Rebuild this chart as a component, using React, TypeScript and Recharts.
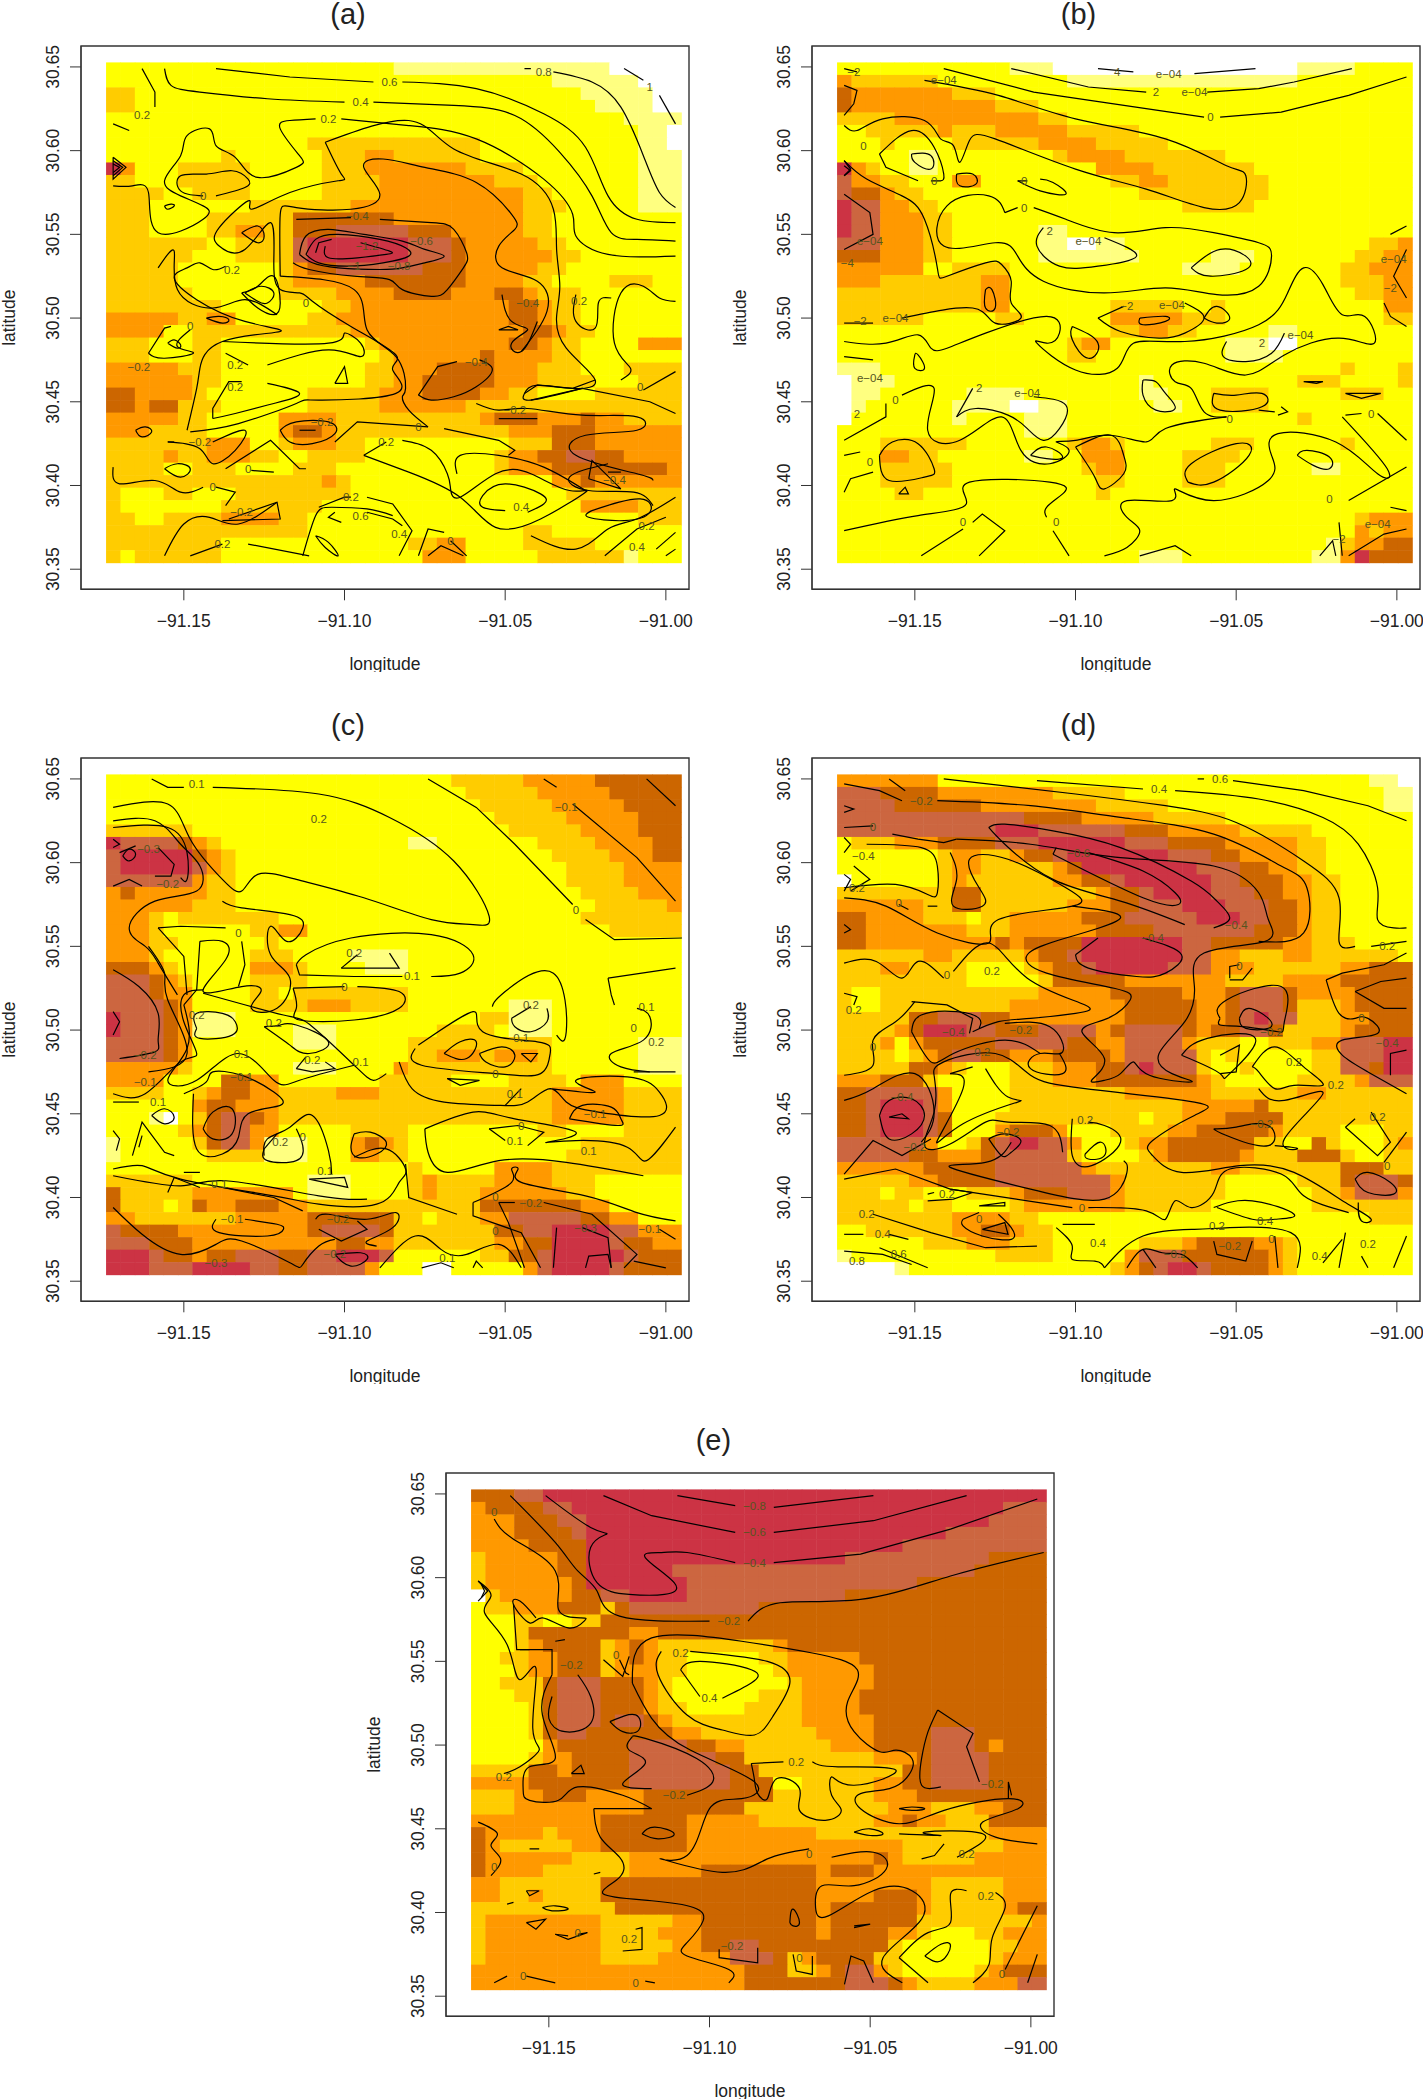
import React from 'react';
import { ScatterChart, Scatter, XAxis, YAxis, ReferenceArea } from 'recharts';

// Heat-map classes, read row by row from the top, run-length coded: y20 = 20 yellow cells
const gridA = ["y20l15w5","y31l6w3","a2y31l5w2","a2y32l4w2","y36l4","y37l2w1","y14a12y11l2w1","y8a1y6a3o2a6y11l3","r1o1y3a5y5a3o7a4y8l3","a2y3a5y5a4o8a3y7l3","a4y2a4y5a4o10a2y6l3","a3y7a7o12a3y5l3","a3y4a6d7o9a2y9","a3y4a2o2a2d3b5d3o5a2y9","a7y2a4b1r7b3d1o5a2y8","a6y3a4b1r7b3d1o6a2y7","a5y7a1o1d2b6d3o5a2y8","a5y7a1o5d7o4a2y4a3y2","a6y6a4o4d4o3d2o1a3y7","a8y7a2o11d2o1a2y7","o5a2o2y5a2o12d2o1a2y7","o4y2a11o12d2o1a2y6","a3y3a2y10a1o9d2o1a2y4o3","a3y3a2y11a1o6d1o4a2y7","o5a3y10a2o3d4o3a3y3a4","o6a2y10a2o2d5o3a4y3a3","d2o4a1y7a5o3d4o2a2y4a6","d2o1d2a3y6a5o6a15","o5a2y5o4a10o1d3o3d1o2a4","o3a4y5o1d2o1a12o3d3o6","a7o3y2a1o3a2y10a3d3o6","a4o1a2o3a2y2a4y9a1o2d2b2d2o4","a4y2a3y4a3y11a1o3d8o1","a15o1a1y14o2d1o6","a1y3a2y3a8y15a8","a1y7a7y18o4a3","a2y2a4o4a2y23a3","a14y15a2y9","a8y13a2o2y4a5y6","a1y1a6y14o3y5a6l1y3"];
const gridB = ["y12l3w17l4y4","o1a6y9l16y8","d1o7a3y29","d1o10a3y26","a4o10a2y24","y2a5o1a3o5a5y19","y3a1y4a6o4a5y17","y5l2y8a1o4a7y13","r1o1a1y2l2y11o4a7y11","b1o2a2y3o2y9a2o2a7y10","b1d2o1a2y15a9y10","r1b2o2a2y17a5y11","r1b2o3a2y31","r1b2o3a2y6l2y24","b3o3a2y6l2w2l2y17a2o1","d3o3a2y6l7y5l3y7a2o2","o6y2a4y12l4y7a2o3","o3a7o2y23a3o2","a10o2y24a2o2","a10o2y7a5y2a1y11o2","a6y5a2y6o5a3y11a2","y19a2o2a2y5l2y8","y16a1o2y8l3w2y8","y16a2y9l4y9","l3y32a1y3a1","w1l3y17l1y10a3y4a1","w1l2y6l4y8l2y3a4y5a3y2","w1l1y6l4w2l2y6l2y2a4y10","w1y7l1y4l3y16a1y7","y13l3y24","y3a6y7a1o2a1y6a3y6a1y4","y3o2a2y6l2y2o3y4a4y12","y3a5y9a1o2y4a3y6l2y5","y3a5y10a2y4a3y13","y4a2y12a1y21","y40","y36a1o3","y36o1a1o2","y34l1a1o2d2","y21l3y9l2o1r1d3"];
const gridC = ["y24a5o5d6","y25a5o5d5","y26a5o5d4","y27a5o5d3","a6y22a5o4d3","r1b4d1o1a1y13l2y7a4o4d2","b1r5d1o1a1y22a4o3d2","b1r5b1o1a1y23a4o4","b6o1a2y23a4o4","o1d1o5a2y24a4o3","o6a3y25a5o1","o3a1y1a7y21a7","o3a1y6a2o2y21a5","o3a2y6a1y28","o3a1y6a3y4l4y19","d3o1a1y5o3a1y4l3y19","b3d1o1a1y4a4y26","b3d1o2y4a2y1a8y19","b4d1o1y4a3a1o3a4y7l3y9","r1b3d1o1l3y17a2l3y9","r1b3d1o1l3y4l3y7a4y1l3y9","b4d1o1y7l3y5a10y6l3","b4d1o1y15a2o3a1o3a1y6l3","o5a1y7l3y4o1a10y6l3","o4y4d2o2y7a5y4a4y1o3y4","a4y2a1o1d2o2a4o3a12o5a4","y6o1d2o3a19o5a4","y3l1w1y1a1d1b2d1o1a19o5a4","y5a1o1d1b2o2y5a4y9a2y4a4","l1y5a1d1b2o1l3y3o1d1o1a1y12a7","l1y6a4l3y3o2a2y11a8","y21a1y5o4a9","a6y8l3y4a1o1a4o4a3y6","d1a5o7y1l3y4a1o1a3o6a2y6","d1a3y1a1d1o2d3o2a12d7o2y5","o2a7o5d6a2y1a3o2b5d2o2y3","b1d4o9d1b4d1a7d2b2r4b2o3","b3d3o10d2o2a7o2d2r4b1d2o2","r3b1d2o1d2b3d2b2r3b1y6a2d2b1r5b1d3","r3b3r4b2d2b4o1y3w2y5o1b1r4b1d4"];
const gridD = ["o7y30l2w1","b3d4o8a5y18l2","b4d6o8a5y15l2","b13d4o5a5y13","b11r3b6d3o5a5y7","y1a3o3d4b3r6b3d4o5a2y6","y7a1o2a2o1d2b1r7b3d2o4a2y6","y7a1o1o1a5o1d1r8b3d2o2a2y6","w1y6a1o1a6o2d2b1r6b2d3o2a2y5","a8d2a8o1d2b1r4b3d2o2a2y5","o6a2d2a6o3d2b3r3b3d2o1a2y5","d2o4a3y1a2o5d3b5r3b2d2o1a2y5","d2o7a3o6d4b7d3o1a2y5","d2o9d1o1d2d2r7b2d2d3o2a3y4","a6o2a2a3o1d2b1r7b2o2a3o2a6y1","a3o2a4y4a1o1d2b1r5b3o3a2a4o2d3","a9y5a1d5o4o3a4o3o1d5","a1y2a11o5d5o3d1b3d1o4d4","a1y2a9o8d3d2o2d1b3d1a3o1d4","a5d2b3d2o4o4d5o2d1b1r1b2a3o2d3","a4o1d1r3b2d3b4o1d1b4d1o1d2b2d1a4o1d4","a3o1y1o1d1d4b5d2o1o1b4o1a3y2a3o2b3r2","a4y1a1o1d1b2d2o3d4o1b5a1y1a1y5a2b3r2","a5d2o1a1y3a3o3d2b1r1b3a1y2a1y4a2b2d1r2","o3d3a1y5a3o3d7o1a1y5a4o1b3","d2b5o1y4a8o6a6o2a6","d2b1r3b1o1y4a12o5d1a4a6","d2b1r3b1d1y3a1a9y1a2o3d3d1a9","d2b1r3b1d1y3o1d3o1y3a4o2d5o1a4y3a2","b6o1y2a1d1b1r2b2o1y3a1o2d6a2y2d1a1y3a1o1","b5d2o1o2d1b5a1y4a1o1d5o1a2a1d3a1y2a2","o6d5b6o1a8o2a7d3a2","a5o2d2d2b8o1a7y5a3d1b3d1","a3y1a2y3a3o1d3b3o1a7y6a2o1b3o1","a5y1a2y4a1o7a6y7a3a4","a8o4a2y23a3","y2a6o2d2o1a2y25","y6a3o3a3y6a3o1d4o2a1y8","l1y10a4y5o1b3d6o1a1y8","w4l1y14a1o1d1b1r2b1d4o1a1y8"];
const gridE = ["d3b2r35","o1d4b2r30b3","o3d3b2r28b4","o3d4b1r25b7","o4d4r22b10","a1o5d2r6r12b10d4","a1o5d2r6b21d5","a1o6d1r7b16d9","w1a1o5d2b2r4b11d14","y1a2o3d3a1d1b9d20","y3a2y2a2d31","y3a1d7o2d27","y3a1o1d4a1o1d1o1a8o1d18","y2a2o2d3a1o1d1o1a2y5a2o5d13","y3a1o2d3a1o2o1a2y6a1o6d12","y2a3d1b3d3o1a1y8a1o5d12","y3a2d1b3d3o1a1y6a3o4d13","y4a1d1b3d3o1a1a1y4a4o4d13","y4a1d1b3d1b2d1o1a2a7o5d12","y4a1d1b2d4d2o2a8o4d4b3d5","y5o1d5b4d2o2a6o3d4b3d1o1d3","y4a1o2d1d3b6d2a9o3d1b4d4","a4d2o1d3d1b7d2a10d2b4d4","o4d7b7d3y2a3a2o2d2b4d4","a3o2d3o4d6d3a7o3d9","a3o9d7a10o3a3o2d3","o9d6o5a8o2d1o2a3d4","d1o4a1o3d6o9a12o4","d1o1a5o2d6o9o6a7o3","d1o6a4o1o12o4d1o1a5o5","d1o4a6o1o4d8o1d3o12","o2a7d15o8a5o3","o2a2o1a4d15o4d3o1a5o3","a10d14o1d6o1a5o1d2","a1o8a5o2d8o1d6a2a6o1","a1o8a4o3d8o1d4o2a1y3a2o3","a1o8a5o2d2b2d5d4a1y6a2o2","a1o8a4o5b3d1a1o1d4a2y6a1o3","o19d3a2o1d1b2o1a1y5a1o1d3","o19d7b3d1o1a4o3b2"];

// Contours: lon and lat written as thousandths of a degree above -91.200 and 30.300
const contoursA = ["60,349 83,344 109,341","118,341 141,337 162,322 175,302 182,273 191,259 203,257","156,349 158,349","165,347 177,341 186,326 193,297 198,275 203,266","187,349 193,342","198,333 203,316","44,349 46,339 55,335 76,331 100,329","109,329 134,327 153,321 167,299 177,273 183,251 191,247 203,246","37,349 41,335 41,326","28,316 33,312","91,319 83,318 80,313 86,297 85,290 73,284 66,296 60,303 58,313 51,309 49,297 44,282 49,273 56,267 56,259 42,251 39,275 34,279 28,279","99,319 120,315 141,307 162,283 171,262 172,249 182,238 203,237","28,296 32,290 28,283 28,296","28,294 31,290 28,285","28,292 30,290 28,287","56,273 49,276 49,285 57,286 65,288 70,283 69,278 60,273","44,267 46,268 47,267 45,265 44,267","94,305 120,318 134,301 155,286 165,265 166,241 167,219 166,201 169,182 178,163 171,158 160,160 156,155 158,151 174,158","94,305 99,286 98,282 83,275 71,265 70,270 61,254 61,243 69,241 77,257 78,233 80,217 86,215 90,210 102,195 116,178 115,169 116,155 92,151 85,149 67,137 52,132","80,225 80,262 85,266 102,265 111,274 106,290 112,295 125,290 141,281 152,262 153,253 148,243 149,230 160,222 163,204 155,180","80,225 103,217 107,193 116,177 119,158 118,153 120,145 126,135","131,134 148,127 153,121 151,118","84,233 89,229 103,225 114,223 118,217 127,213 132,217 137,230 138,239 134,253 127,257 111,259","85,259 102,260","86,238 88,249 95,253 106,250 118,246 125,241 131,237 125,233 118,230 111,229 98,230 90,233 86,238","88,238 91,247 98,250 111,247 119,242 120,237 112,233 101,231 92,233 88,238","91,239 92,245 96,247","105,245 114,240 113,238 104,236 95,236 94,243","149,214 152,198 157,193 152,185 155,180 160,198","148,193 151,195 154,193 148,193","123,154 129,171 135,174","142,175 146,169 141,159 134,153 127,151 123,154","51,133 54,158 55,170 62,186 80,192 69,198 54,211 47,224 51,230 55,233 59,229 63,231","62,186 95,185 100,191 105,185 105,177 95,181 76,172","63,179 70,172","59,140 59,146 64,162 68,162","76,161 86,155 78,149 66,143 59,140","97,161 100,171 101,161 97,161","35,133 38,135 40,132 37,129 35,133","45,185 47,187 49,184 48,182 45,185","39,179 44,194 46,195","52,193 48,183 53,179 44,176 39,179","57,200 61,201 64,199 62,197 57,200","68,215 73,219 78,225 80,209 78,202 73,206 68,215","69,215 74,219 78,215 76,209 73,210 69,215","68,251 73,255 75,249 73,245 68,251","42,230 47,240 48,217 59,206 69,211 79,202","80,133 85,138 95,138 97,131 90,125 83,126 80,133","86,133 91,133","45,126 47,126","59,126 69,133 66,121 59,113 55,122 45,126","44,110 48,113 52,110 49,105 44,110","63,110 77,127 86,110 88,110","71,109 78,108","28,111 30,101 41,103 49,96 56,99","60,99 66,96 63,88","44,58 50,77 58,81 67,77 79,90","64,80 79,90 80,80 62,79","92,87 100,93 102,93","107,93 115,89 121,73 117,58","97,126 104,138 126,135","106,118 113,126","118,127 127,121 132,107 133,98 136,93 147,107 158,107 170,97 175,96 161,80 147,75 136,93 120,108 106,118","150,85 143,87 143,94 150,101 161,95 162,89 157,84","135,107 136,118 148,118 162,111 175,97","52,58 62,65","70,65 89,58","123,58 126,74 131,72","126,58 130,64 137,58","133,67 138,58","91,70 95,66 98,58 94,63 91,70","87,58 91,82 96,87 107,86 115,82","99,78 95,81 97,84","107,84 115,80 118,76","141,149 148,145 157,146 174,142 191,141 191,133 175,130 172,118 191,107 196,103","148,140 160,140","156,155 160,160 171,158 178,163","158,151 174,158 195,150 203,143","186,163 189,170 184,185 186,215 193,219 198,212 203,210","172,214 172,198 178,194 179,209 183,212","193,157 203,168","182,113 170,105 176,97 190,96 196,88","158,70 172,62 182,74 191,80 203,93","181,58 191,74 200,81","197,62 203,72","176,104 177,115 186,98 176,104","182,108 186,108","177,85 192,92 195,84 187,79 176,81 177,85","200,58 203,62"];
const contoursB = ["107,349 118,347","137,346 156,349","80,349 104,338 122,335","141,335 157,337 168,341 186,349","59,349 87,335 140,320","145,320 164,323 185,333 203,344","28,349 32,347","53,342 76,333 100,319 128,307 147,291 153,285 151,269 140,266 122,277 100,289 75,307 67,306 64,293 62,303 58,307 53,318 40,319 32,312 28,315","28,339 32,336 31,328 28,321","39,298 49,312 56,302 59,286 58,282 55,282","51,282 41,290 39,298","49,298 55,297 55,289 50,293 49,298","63,286 68,286 69,280 64,279 63,286","82,282 85,282","89,283 93,281 97,274 89,276 82,282","78,263 82,266","87,266 97,259 112,251 128,254 143,251 157,245 161,237 157,219 144,214 128,218 109,215 90,222 82,237 75,245 59,243 60,267 73,273 78,263","90,254 88,243 95,231 107,231 119,237 109,248","136,230 145,241 153,237 153,229 142,225 136,230","28,294 35,283 46,273 53,259 57,230 60,225 72,233 77,232 80,222 80,209 83,200 75,197 68,206 46,200","28,197 37,197","28,274 36,263 37,250 28,241","28,294 30,289 28,285","28,291 30,288 28,285","72,217 74,217 75,206 72,206 72,217","107,200 115,207","134,209 140,200 134,191 126,188 114,192 107,200","120,200 128,201 128,198 121,196 120,200","140,200 144,207 148,200 144,197 140,200","28,186 41,185 51,190 55,182 60,182 72,191 91,201 95,191 91,185 88,185 100,169 113,170 118,185 134,186 157,196 166,215 171,230 177,220 183,202 190,201 193,185 182,188 165,178 153,166 140,173 130,172 131,162 136,158 140,144 147,141","99,195 99,187 104,176 107,185 99,195","147,186 146,177 153,174 161,179 165,191","28,177 37,175","50,178 51,178 53,170 50,170 50,178","121,163 125,162 128,155 131,146 125,145 121,154 121,163","143,155 150,154 158,155 158,147 145,145 143,155","171,162 177,162 175,161 171,162","184,155 195,155 189,152 184,155","63,141 68,158","87,153 97,148 95,134 90,127 85,134 79,142 69,146 63,141","28,127 41,141 41,149","46,154 56,158 54,133 64,127 77,141 83,121 92,113 98,121 94,126 100,127 111,130 122,126 128,134 147,141","86,118 91,123 96,117 91,116 86,118","100,123 111,130 115,118 115,107 109,98 106,105 100,123","39,118 43,126 51,125 56,110 53,105 42,103 39,118","45,95 47,99 48,95 45,95","135,102 136,113 150,125 154,118 143,102 135,102","184,142 189,143","194,143 203,127","183,141 197,110 194,107 181,126 163,131 161,118 160,103 143,91 131,98 130,91 116,91 116,81 120,73 116,63 109,58","28,73 51,82 66,89 67,102 92,102 96,95 91,87 91,81","52,58 65,74","68,78 71,83 78,73 70,58","93,73 98,58","169,118 172,121 179,117 179,110 174,112 169,118","185,91 203,111","182,78 183,58","198,87 203,85","185,58 196,71 203,74","176,58 180,67 181,58","120,58 131,64 136,58","198,250 203,255","196,209 198,201 203,195","203,241 199,225 203,212","28,118 33,120","28,96 30,104 37,108","157,145 162,144","164,147 166,144 163,142"];
const contoursC = ["40,350 45,345 50,345","59,345 92,341 114,327 134,301 145,268 140,263 127,266 106,279 85,290 73,293 68,283 62,290 52,314 45,335 28,333","126,350 141,333 153,311 171,275","175,266 184,254 205,255","162,350 166,345","171,335 191,303 203,277","194,350 203,334","28,325 41,325 49,311 55,298 54,283 41,277 33,261 38,250 42,240 48,221","28,321 45,321 51,306 51,290 49,291","28,286 33,290 37,286","30,306 35,310","42,309 47,299 46,292 41,292","31,304 33,308 35,305 33,301 31,304","28,314 30,311 28,309","28,236 36,226 42,210 42,194 41,187 30,183","28,211 30,205 28,197","39,175 51,186 45,218 44,234 39,250","28,162 38,162 49,181 54,186 50,205 50,221 56,224","42,261 49,262 63,261","42,261 50,244 51,221","55,253 62,253 63,242 56,223 68,226 74,223 71,213 79,213 83,231 77,245 77,262 82,253 87,261 83,269 68,273 62,277","55,253 54,224 50,215","68,253 69,239 67,226","56,222 81,209 90,202 103,179 109,170 113,174","50,215 51,189 45,170 54,170 67,186 78,170 86,170 103,179","75,202 80,203 85,203 95,193 89,186 83,191 75,202","85,177 88,184","94,181 97,177 90,175 85,177","54,201 54,210 62,210 66,205 65,197 55,195 54,201","85,239 88,245 102,255 127,257 140,245 136,234 127,232","118,232 103,232 86,233 85,239","99,237 104,245","114,246 117,237 99,237","84,225 100,226","104,226 117,223 117,213 103,206 86,206 85,213 84,225","123,191 140,211 143,199 160,193 164,186 161,174 147,174 124,179 122,189","146,214 150,223 165,234 169,199 166,197","152,207 158,214","163,213 163,205 158,199 153,202 152,207","131,186 136,193 141,193 138,183 131,186","142,186 149,190 153,185 150,178 144,181 142,186","155,186 160,186 158,181 155,186","132,171 142,170 136,167 132,171","117,181 121,165 131,157 148,155 157,157 164,165 169,157 179,151 198,149 198,163 188,172 172,170 178,163 164,165","170,147 174,155 183,154 186,147 185,143 170,147","125,141 140,151 153,147 172,139 163,133 172,134 188,130 194,122 203,142","125,141 126,127 132,115 148,122 169,121 193,113","145,141 154,143 162,139 157,131","145,141 150,134","50,162 57,169 59,175 68,173 78,163 80,155 70,150 67,136 62,126 54,129 53,162","56,141 59,151 65,153 65,138 59,135 56,141","28,157 36,157","40,149 44,153 47,148 44,144 40,149","34,125 37,145 44,127 47,125","28,117 37,119 49,111 78,101 92,96 110,96 117,109 119,117 113,129 103,124","28,113 49,107 63,110 92,101 107,99","89,111 100,112 101,106 89,111","28,94 37,78 49,66 60,72 68,74 83,61 87,60 92,71 97,75","45,103 47,112 55,106","62,106 78,100 87,92","60,87 61,79 76,77 81,81 79,84 69,87","91,87 95,90 107,87 116,91 115,82 107,74 110,71","92,81 99,74 107,81 104,86","97,66 105,67 107,63 102,59 97,66","140,97 152,109 152,117 154,117 155,109 175,101 191,91 203,86","140,97 140,89 155,79 161,58","148,97 153,97","162,97 177,90 191,66 187,58","148,97 151,85 156,58","166,82 165,58","174,82 182,76 183,58","175,58 176,65 182,66 183,58","190,62 200,58","198,81 203,75","111,58 122,77 130,69 138,66 148,72 155,58","124,58 130,61 134,58","140,58 141,62 143,58","182,231 203,237","182,231 183,221 184,215","191,213 195,208 193,194 183,186 186,178 195,175","103,138 108,139 113,133 110,126 104,124 102,130 103,138","75,125 76,135 83,142 90,149 95,128 96,114","75,129 79,138","85,141 87,131 85,122 76,122 75,129","28,140 30,135 29,128","36,130 37,137 36,130","50,115 55,115","190,175 203,175","150,155 155,165","119,120 120,100 135,90"];
const contoursD = ["138,350 140,350","149,349 171,343 191,334 203,325","88,349 121,344","131,343 157,338 177,327 188,311 194,285 194,266 199,261 203,261","59,350 100,341 128,334 150,324 171,301 182,279 182,253 187,250","192,250 203,253","42,350 47,343","28,347 39,343 46,337","57,337 86,334 114,327 143,317 164,298 172,285 171,258 157,253","28,321 37,322","43,317 51,314 59,312 63,314","73,321 78,323 93,319 114,309 136,289 144,277 148,267 143,261","134,263 114,277 93,290 78,311 73,321","93,305 94,309","104,306 121,295 131,282 132,275 121,279 93,305","63,314 86,311 114,303 143,298 157,282 160,266 159,253 140,246 137,226 134,205 126,186 130,174 136,169 123,173 118,181 114,174 109,170 105,170 109,183 102,199 110,207 117,218 112,225 91,234 85,245 97,255 114,267 99,274","100,245 107,255","121,255 133,245 128,234 119,232 104,237 100,245","28,279 41,274 57,258 73,252 76,266 99,274 97,285 79,302 67,302 70,285 71,274 62,274 63,290 61,306","28,285 44,287 54,281 57,282 57,298 52,309 35,311","45,275 48,272","54,274 57,274","28,240 38,241 46,231 51,241 59,231","62,235 73,252 85,231 103,215 100,210 86,207 76,205 68,199","49,217 60,215 68,207 67,198","50,217 44,205 37,194 37,179 28,173","49,199 52,209 63,211 70,207 70,201","78,204 92,202 96,187 89,186 86,177 96,174 95,186","49,199 55,181 62,186 78,194 89,186","28,158 37,165 50,174 56,151 52,133","39,149 42,158 49,159 53,149 49,138 42,135 39,149","42,148 46,150 48,147 42,148","28,114 37,134 46,125 55,135","56,173 59,181 75,186 86,173 103,165 137,157 137,149 124,134 124,125 133,115 151,119 168,115 184,97 192,87 189,86 188,97","56,173 56,151 53,131 61,132 72,145 79,145 92,143 96,127","61,174 68,178","72,177 79,160 82,157 65,144 57,134 65,165 61,174","73,135 78,138 83,134 80,127 77,125 73,135","99,147 99,125 105,119 114,133 109,143 104,145","103,126 108,133 109,125 104,123 103,126","115,122 116,115 109,99 86,105 61,118 72,121 80,133","28,111 44,117 61,105 99,94","104,94 122,92 128,87 131,98 136,94 143,103 148,117 164,114 171,101 185,91","143,94 155,98 168,90 162,87 155,87 144,94","37,90 55,79 72,70 88,71","28,78 34,78","42,78 48,75","39,70 54,58","28,68 40,66 49,60","65,87 70,91","76,90 80,82 80,75 71,77 65,83 65,87","71,81 78,85 79,78 71,81","94,82 99,71 99,63 106,62 109,58","96,84 106,84","109,58 121,77 137,81 148,82 167,79 169,58","116,58 121,69 127,67 133,66 138,58","121,69 125,58","143,74 144,66 153,62 155,74","162,77 163,58","182,58 184,79","177,61 183,75","189,65 191,58","199,58 203,77","178,230 183,234 196,239 203,246","178,230 182,210 187,207 191,207 194,198 183,194 183,185 191,175 203,162","187,223 195,229 203,231","187,223 196,213 203,213","198,173 198,186 203,188","187,111 191,115 198,109 199,102 191,103 187,111","148,231 148,238 151,239","155,237 152,230 148,230","145,207 147,218 164,226 165,205 163,199 152,202 145,203 145,207","151,207 154,213 160,207 160,201 153,201 151,207","133,185 141,195 156,195 148,174 145,174 133,185","145,185 151,191 150,175 145,174","155,178 162,190 171,178 177,167 168,167 162,165 157,175 155,178","157,165 165,158 177,162 165,135 169,129 162,131","143,141 150,142 160,143 160,131 147,137 143,141","184,142 187,147","192,151 198,133 194,125 184,142","196,121 203,139","54,102 56,103","61,105 68,103 62,99 54,98","70,95 78,97 78,95 70,95","28,315 30,311 28,306","28,293 30,290 28,283","28,334 31,332 28,330","28,263 30,260 28,258","28,222 32,220 31,215","31,298 36,290 30,283"];
const contoursE = ["90,349 108,343","120,342 151,349","67,349 82,337 108,327","120,327 151,334 180,349","49,349 63,330 68,326 63,318 65,297 75,290 86,290 89,297 80,312 85,315 93,315 108,309","120,309 147,314 175,329 202,347","38,349 52,321 59,304 65,292 72,277 100,274","112,274 122,285 147,287 175,301 204,315","33,335 39,323 52,304 53,281 60,276 61,274 56,270 48,276 44,273 39,284 41,286 46,276","39,284 40,257 51,257 51,242","28,298 32,289 30,279 37,260 41,239 46,246 45,210 47,197 41,187 36,183","28,298 31,292 28,286","29,296 30,292 29,288","51,242 48,218 52,192 44,187 42,174 44,167 53,167 59,175 73,170 82,162","64,162 82,162","64,162 66,145 72,133 72,121 67,111 82,107 95,103 98,95 93,82 93,74 106,66 106,58","76,237 82,264 110,262 132,255 146,245 143,226 145,208 153,196 158,197 163,192 162,182 156,174 147,171 147,162 159,153 173,161 193,168 196,162 185,154 189,145 202,141","76,237 82,216 94,197 114,178 110,168 100,162 93,134 85,132 104,124 118,132 131,138","138,133 151,136 155,126 145,116 135,116 133,103 137,98 151,113 163,113 166,96 154,73 160,58","51,229 50,216 55,208 63,213 63,229 59,242","69,214 77,218 78,209 73,208 69,214","76,205 80,204 96,192 101,178 93,170","82,174 73,177 80,189 75,197 76,205","67,251 73,241 75,253","72,251 74,243 75,242","85,256 84,242 93,218 104,209 114,206 120,218 125,237 118,250 94,256","91,245 97,250 113,245 113,237 104,228","97,229 91,245","113,189 123,190","132,190 140,187 158,185 145,176 138,181 138,170 141,161 136,155 128,161 128,174 121,180 118,168 115,171 114,179 113,189","171,221 182,207 180,199 184,178","172,175 166,176 166,192 168,208 171,221","79,147 83,151 89,147 84,144 79,147","145,148 150,150 154,147 150,146 145,148","159,162 163,163 167,162 163,161 159,162","159,147 172,146 167,148 185,147 177,133","173,141 170,134 166,132","28,154 34,147 32,140 35,132 32,122","48,103 52,104 56,102 51,101 48,103","43,94 49,96 46,90 43,94","52,87 56,86","59,87 62,88 56,84 52,87","73,77 79,78 79,91 77,90","125,94 126,102 128,94 126,92 125,94","103,78 103,73 115,70 115,79","126,75 127,65 132,63 132,74","142,57 144,74 148,71 151,58","145,92 150,93 145,91","159,73 168,88 175,94 175,111 180,113","189,112 192,103 188,85 187,69 182,58","159,73 168,58","167,74 172,81 175,80 172,71 167,74","192,66 202,104","199,58 202,75","33,58 37,62","43,62 52,58","80,59 83,58","44,138 47,138","64,123 66,124","43,113 47,113 44,110 43,113","37,105 39,106 37,105","52,262 55,263","41,257 44,257","57,183 60,188 61,183 57,183","193,168 193,178 194,170"];

// Contour labels: lon, lat and text
const labelsA: [number, number, string][] = [[114,341,"0.6"],[105,329,"0.4"],[95,319,"0.2"],[37,321,"0.2"],[162,347,"0.8"],[195,338,"1"],[56,273,"0"],[104,261,"−0.4"],[107,243,"−1.2"],[103,231,"−1"],[117,231,"−0.8"],[124,246,"−0.6"],[65,229,"0.2"],[88,209,"0"],[157,209,"−0.4"],[173,210,"0.2"],[52,195,"0"],[66,172,"0.2"],[66,159,"0.2"],[141,174,"−0.4"],[36,171,"−0.2"],[93,138,"−0.2"],[123,135,"0"],[55,126,"−0.2"],[70,110,"0"],[59,99,"0"],[113,126,"0.2"],[102,93,"0.2"],[105,82,"0.6"],[117,71,"0.4"],[62,65,"0.2"],[68,84,"−0.2"],[155,87,"0.4"],[184,103,"−0.4"],[194,76,"0.2"],[191,63,"0.4"],[133,67,"0"],[153,145,"−0.2"],[192,159,"0"]];
const labelsB: [number, number, string][] = [[31,347,"−2"],[59,342,"e−04"],[113,347,"4"],[129,346,"e−04"],[125,335,"2"],[137,335,"e−04"],[142,320,"0"],[34,303,"0"],[56,282,"0"],[84,282,"0"],[84,266,"0"],[92,252,"2"],[104,246,"e−04"],[33,198,"−2"],[44,200,"e−04"],[116,207,"−2"],[130,208,"e−04"],[29,233,"−4"],[36,246,"e−04"],[199,235,"e−04"],[198,218,"−2"],[158,185,"2"],[170,190,"e−04"],[36,164,"e−04"],[32,143,"2"],[44,151,"0"],[70,158,"2"],[85,155,"e−04"],[148,140,"0"],[192,143,"0"],[36,114,"0"],[65,78,"0"],[94,78,"0"],[179,92,"0"],[194,77,"e−04"],[182,68,"−2"]];
const labelsC: [number, number, string][] = [[54,347,"0.1"],[92,326,"0.2"],[39,308,"−0.3"],[45,287,"−0.2"],[67,258,"0"],[103,246,"0.2"],[121,232,"0.1"],[172,272,"0"],[100,226,"0"],[169,333,"−0.1"],[54,209,"0.2"],[78,204,"0.2"],[68,186,"0.1"],[90,182,"0.2"],[38,185,"−0.2"],[38,169,"−0.1"],[68,172,"−0.1"],[105,181,"0.1"],[158,215,"0.2"],[155,195,"0.1"],[194,214,"0.1"],[190,201,"0"],[197,193,"0.2"],[147,174,"0"],[153,162,"0.1"],[178,150,"−0.1"],[155,143,"0"],[87,136,"0"],[80,133,"0.2"],[153,134,"0.1"],[176,128,"0.1"],[42,157,"0.1"],[94,116,"0.1"],[60,108,"−0.1"],[65,87,"−0.1"],[98,87,"−0.2"],[147,100,"0"],[158,97,"−0.2"],[175,82,"−0.3"],[195,81,"−0.1"],[147,80,"0"],[132,64,"0.1"],[60,61,"−0.3"],[97,66,"−0.2"]];
const labelsD: [number, number, string][] = [[145,350,"0.6"],[126,344,"0.4"],[52,337,"−0.2"],[37,321,"0"],[34,304,"−0.4"],[101,306,"−0.6"],[32,285,"0.2"],[45,276,"0"],[150,263,"−0.4"],[124,255,"−0.4"],[197,250,"0.2"],[60,233,"0"],[74,235,"0.2"],[151,238,"0"],[31,212,"0.2"],[62,199,"−0.4"],[83,200,"−0.2"],[37,190,"0"],[71,187,"0.2"],[161,199,"−0.2"],[189,207,"0"],[197,192,"−0.4"],[168,181,"0.2"],[181,167,"0.2"],[46,160,"−0.4"],[50,130,"−0.2"],[79,139,"−0.2"],[103,146,"0.2"],[158,144,"−0.2"],[194,148,"0.2"],[197,119,"0"],[60,102,"0.2"],[102,94,"0"],[70,87,"0"],[159,86,"0.4"],[35,90,"0.2"],[40,78,"0.4"],[45,66,"0.6"],[32,62,"0.8"],[107,73,"0.4"],[144,83,"0.2"],[161,75,"0"],[148,71,"−0.2"],[131,66,"−0.2"],[191,72,"0.2"],[176,65,"0.4"]];
const labelsE: [number, number, string][] = [[114,343,"−0.8"],[114,327,"−0.6"],[114,309,"−0.4"],[106,274,"−0.2"],[33,339,"0"],[57,248,"−0.2"],[71,254,"0"],[91,255,"0.2"],[100,228,"0.4"],[127,190,"0.2"],[36,181,"0.2"],[89,170,"−0.2"],[131,135,"0"],[180,135,"0.2"],[188,177,"−0.2"],[33,127,"0"],[59,88,"0"],[75,84,"0.2"],[107,80,"−0.2"],[128,73,"0"],[42,62,"0"],[77,58,"0"],[186,110,"0.2"],[191,63,"0"]];

const lonTicks = [-91.15, -91.1, -91.05, -91.0];
const latTicks = [30.35, 30.4, 30.45, 30.5, 30.55, 30.6, 30.65];
const lonLeft = 25.8;
const latTop = 352.7;
const lonStep = 4.475;
const latStep = 7.47;
const lonDomain: [number, number] = [-91.182, -90.9928];
const latDomain: [number, number] = [30.338, 30.6625];

const COLORS: Record<string, string> = { w: '#ffffff', l: '#ffff80', y: '#ffff00', a: '#ffcc00', o: '#ff9900', d: '#cc6600', b: '#cc6640', r: '#cc3344' };

const toLon = (m: number) => -91.2 + m / 1000;
const toLat = (m: number) => 30.3 + m / 1000;

function cells(rows: string[]) {
  const out: { x: number; y: number; c: string }[] = [];
  rows.forEach((row, r) => {
    let i = 0;
    let last = 'y';
    const push = (c: string) => {
      out.push({ x: toLon(lonLeft + (i + 0.5) * lonStep), y: toLat(latTop - (r + 0.5) * latStep), c });
      i++;
    };
    for (const m of row.matchAll(/([a-z])(\d+)/g)) {
      last = m[1];
      for (let k = 0; k < Number(m[2]) && i < 40; k++) push(last);
    }
    while (i < 40) push(last);
  });
  return out;
}
const parse = (s: string) => s.split(' ').map((p) => {
  const [a, b] = p.split(',').map(Number);
  return { x: toLon(a), y: toLat(b) };
});

const PLOT_W = 608;
const PLOT_H = 543.3;
const CELL_W = (lonStep / 1000 / (lonDomain[1] - lonDomain[0])) * PLOT_W;
const CELL_H = (latStep / 1000 / (latDomain[1] - latDomain[0])) * PLOT_H;
const FONT = '"Liberation Sans", Arial, sans-serif';

const CellShape = (p: any) => (
  <rect x={p.cx - CELL_W / 2} y={p.cy - CELL_H / 2} width={CELL_W + 0.5} height={CELL_H + 0.5} fill={COLORS[p.payload.c]} />
);
const LabelShape = (p: any) => (
  <text x={p.cx} y={p.cy + 4} textAnchor="middle" fontSize={11.5} fontFamily={FONT} fill="#55551f">{p.payload.t}</text>
);
const Nothing = () => null;
const XTick = (p: any) => (
  <text x={p.x} y={p.y + 27} textAnchor="middle" fontSize={17.5} fontFamily={FONT} fill="#222">
    {'−' + Math.abs(p.payload.value).toFixed(2)}
  </text>
);
const YTick = (p: any) => (
  <text x={p.x - 11} y={p.y} textAnchor="middle" fontSize={17.5} fontFamily={FONT} fill="#222"
    transform={`rotate(-90 ${p.x - 11} ${p.y})`}>{p.payload.value.toFixed(2)}</text>
);

function Panel({ left, top, width, title, grid, contours, labels }: any) {
  const data = cells(grid);
  const lab = labels.map((l: any) => ({ x: toLon(l[0]), y: toLat(l[1]), t: l[2] }));
  return (
    <div style={{ position: 'absolute', left, top, width, height: 672 }}>
      <div style={{ position: 'absolute', left: 81 + 267 - 60, width: 120, top: top === 0 ? 0 : -1, textAlign: 'center', fontFamily: FONT, fontSize: 29, lineHeight: '28px', color: '#222' }}>{title}</div>
      <ScatterChart width={width} height={672} margin={{ top: 46, right: width - 689, bottom: 0, left: 0 }} style={{ position: 'absolute', left: 0, top: 0 }}>
        <XAxis type="number" dataKey="x" domain={lonDomain} ticks={lonTicks} allowDataOverflow height={82.7} interval={0}
          tickSize={11} tickMargin={0} stroke="#333" tick={<XTick />}
          label={{ value: 'longitude', position: 'insideBottom', offset: 2, fontSize: 17.5, fontFamily: FONT, fill: '#222' }} />
        <YAxis type="number" dataKey="y" domain={latDomain} ticks={latTicks} allowDataOverflow width={81} interval={0}
          tickSize={11} tickMargin={0} stroke="#333" tick={<YTick />}
          label={{ value: 'latitude', angle: -90, position: 'insideLeft', offset: 9, fontSize: 17.5, fontFamily: FONT, fill: '#222', style: { textAnchor: 'middle' } }} />
        <Scatter data={data} shape={<CellShape />} isAnimationActive={false} />
        {contours.map((c: string, i: number) => {
          const pts = parse(c);
          return (
            <Scatter key={i} data={pts} shape={<Nothing />} line={{ stroke: '#000', strokeWidth: 1.2 }}
              lineJointType={pts.length > 4 ? 'natural' : 'linear'} isAnimationActive={false} />
          );
        })}
        <Scatter data={lab} shape={<LabelShape />} isAnimationActive={false} />
        <ReferenceArea x1={lonDomain[0]} x2={lonDomain[1]} y1={latDomain[0]} y2={latDomain[1]} fill="none" stroke="#333" strokeWidth={1.4} ifOverflow="visible" />
      </ScatterChart>
    </div>
  );
}

export default function App() {
  return (
    <div style={{ width: 1423, height: 2100, position: 'absolute', left: 0, top: 0, overflow: 'hidden' }}>
      <Panel left={0} top={0} width={712} title="(a)" grid={gridA} contours={contoursA} labels={labelsA} />
      <Panel left={730.5} top={0} width={692.5} title="(b)" grid={gridB} contours={contoursB} labels={labelsB} />
      <Panel left={0} top={712} width={712} title="(c)" grid={gridC} contours={contoursC} labels={labelsC} />
      <Panel left={730.5} top={712} width={692.5} title="(d)" grid={gridD} contours={contoursD} labels={labelsD} />
      <Panel left={365.4} top={1427} width={712} title="(e)" grid={gridE} contours={contoursE} labels={labelsE} />
    </div>
  );
}
